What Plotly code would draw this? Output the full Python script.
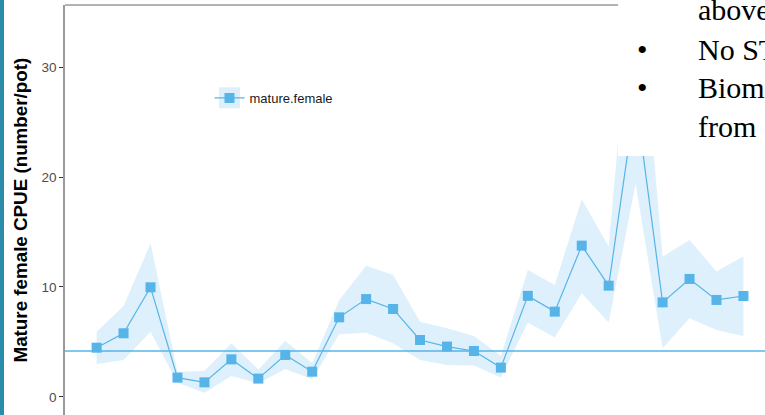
import plotly.graph_objects as go

# survey years (x axis labels fall below the visible crop)
years = list(range(1992, 2017))

# mature female CPUE (number/pot) with confidence band
cpue = [4.48, 5.79, 9.97, 1.76, 1.33, 3.42, 1.67, 3.82, 2.30, 7.24, 8.90, 8.00, 5.18,
        4.58, 4.18, 2.67, 9.19, 7.76, 13.76, 10.12, 27.2, 8.60, 10.73, 8.82, 9.18]
upper = [5.94, 8.27, 13.97, 2.30, 2.36, 4.88, 2.50, 5.12, 3.06, 8.80, 11.94, 11.10, 6.85,
         6.24, 5.55, 3.73, 11.55, 10.18, 17.97, 13.67, 41.0, 12.75, 14.27, 11.40, 12.80]
lower = [3.00, 3.36, 5.94, 1.30, 0.39, 1.90, 1.24, 2.55, 1.60, 5.70, 5.85, 4.88, 3.36,
         2.90, 2.85, 1.76, 6.76, 5.40, 9.42, 6.76, 19.42, 4.42, 7.15, 6.10, 5.55]

ref_level = 4.18
y_ticks = [0, 10, 20, 30]

# slide text overlapping the chart on the right
slide_lines = ["above", "No ST", "Biom", "from"]
slide_bullets = [False, True, True, False]

blue = "#56B4E9"
band = "rgba(86,180,233,0.2)"

# plot area in pixels: x 65..765, y 5..415
W, H, L, T = 700, 410, 65, 5
def px(x):
    return (x - L) / W
def py(y):
    return (H + T - y) / H

fig = go.Figure()

fig.add_trace(go.Scatter(x=years, y=lower, mode="lines", line=dict(width=0),
                         hoverinfo="skip", showlegend=False))
fig.add_trace(go.Scatter(x=years, y=upper, mode="lines", line=dict(width=0),
                         fill="tonexty", fillcolor=band, hoverinfo="skip", showlegend=False))
fig.add_trace(go.Scatter(x=years, y=cpue, mode="lines+markers", name="mature.female",
                         line=dict(color=blue, width=1.2),
                         marker=dict(symbol="square", size=10, color=blue)))

shapes = [
    # reference level across the panel
    dict(type="line", xref="paper", yref="y", x0=0, x1=1, y0=ref_level, y1=ref_level,
         line=dict(color=blue, width=1.5), layer="above"),
    # legend key background (legend itself draws on top of this)
    dict(type="rect", xref="paper", yref="paper", x0=px(219), x1=px(240),
         y0=py(108.3), y1=py(87.3), fillcolor="#DDEFFA", line=dict(width=0), layer="above"),
    # panel top border
    dict(type="line", xref="paper", yref="paper", x0=0, x1=1, y0=1, y1=1,
         line=dict(color="#9A9A9A", width=1.5), layer="above"),
    # slide text box covering the peak
    dict(type="rect", xref="paper", yref="paper", x0=px(618), x1=1.01,
         y0=py(156), y1=py(-5), fillcolor="white", line=dict(width=0), layer="above"),
    # slide accent strip on the far left
    dict(type="rect", xref="paper", yref="paper", x0=px(0), x1=px(4),
         y0=py(420), y1=py(-5), fillcolor="#2A8CA8", line=dict(width=0), layer="above"),
]

annotations = [
    dict(text="<b>Mature female CPUE (number/pot)</b>", textangle=-90,
         xref="paper", yref="paper", x=px(20), y=py(210.5), showarrow=False,
         xanchor="center", yanchor="middle",
         font=dict(family="Liberation Sans, Arial", size=18.8, color="black")),
]
line_y = [9.3, 50, 88, 126]
for txt, bul, yy in zip(slide_lines, slide_bullets, line_y):
    annotations.append(dict(text=txt, xref="paper", yref="paper", x=px(696), y=py(yy),
                            xanchor="left", yanchor="middle", showarrow=False,
                            font=dict(family="Liberation Serif, Times New Roman", size=30,
                                      color="black")))
    if bul:
        annotations.append(dict(text="\u2022", xref="paper", yref="paper", x=px(642.7),
                                y=py(yy), xanchor="center", yanchor="middle", showarrow=False,
                                font=dict(family="Liberation Serif, Times New Roman", size=30,
                                          color="black")))

fig.update_layout(
    width=765, height=415,
    margin=dict(l=L, r=0, t=T, b=0),
    plot_bgcolor="rgba(0,0,0,0)", paper_bgcolor="white",
    font=dict(family="Liberation Sans, Arial", size=13.5, color="#4D4D4D"),
    showlegend=True,
    legend=dict(x=px(209.5), y=py(98), xanchor="left", yanchor="middle",
                bgcolor="rgba(0,0,0,0)", itemwidth=30,
                font=dict(size=13, color="#1A1A1A")),
    shapes=shapes,
    annotations=annotations,
)
fig.update_xaxes(range=[years[0] - 1.173, years[0] + 24.80], showgrid=False,
                 zeroline=False, showline=False, showticklabels=False, ticks="")
fig.update_yaxes(range=[-1.64, 35.64], tickvals=y_ticks, showgrid=False, zeroline=False,
                 showline=True, linecolor="#9A9A9A", linewidth=1.5,
                 ticks="outside", ticklen=4, tickcolor="#333333",
                 tickfont=dict(size=13.5, color="#4D4D4D"))

# drop the page's default body margin so the figure sits at the window corner
fig.write_html("out.html", config={"displayModeBar": False},
               post_script="document.body.style.margin='0';")
